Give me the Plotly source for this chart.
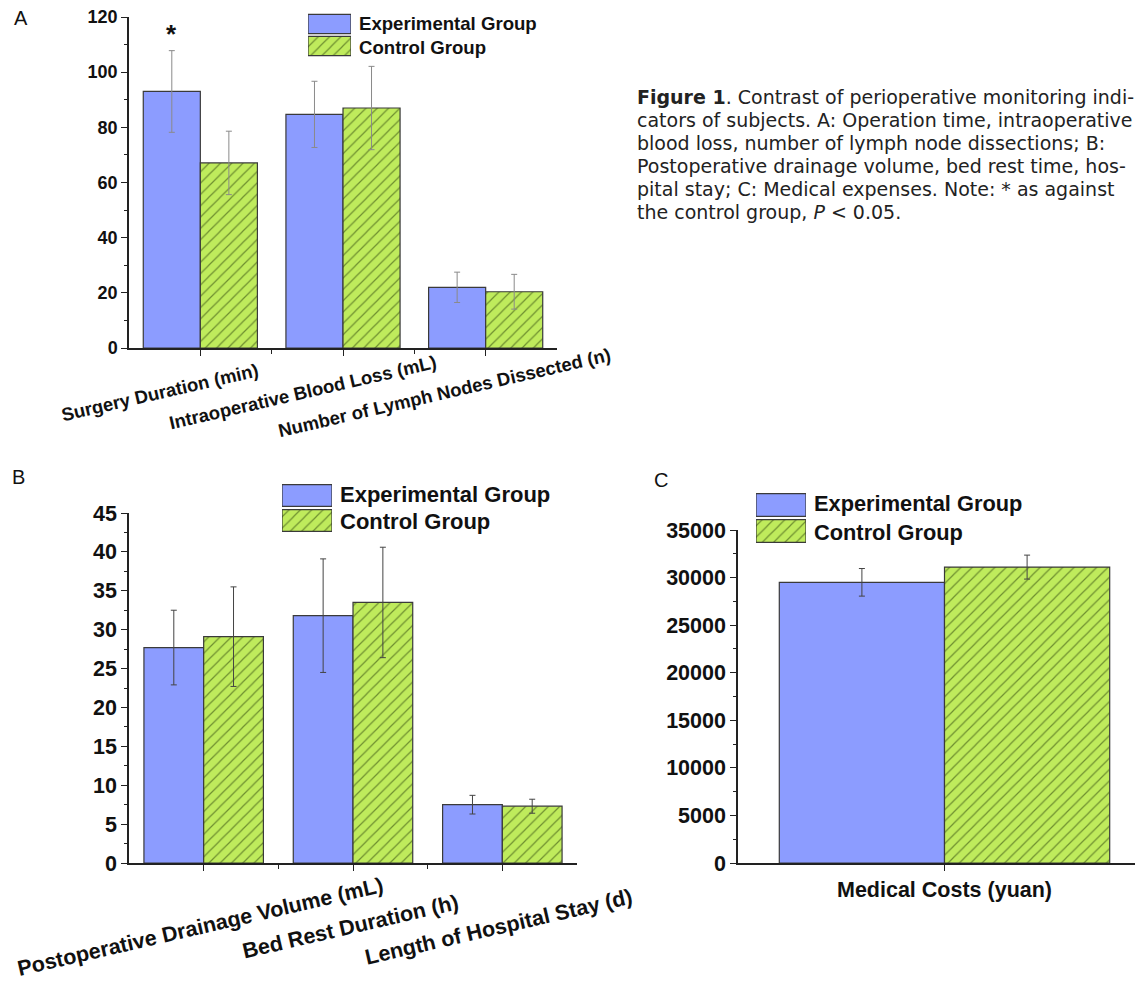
import plotly.graph_objects as go

# ---------------- data ----------------
groups = ["Experimental Group", "Control Group"]

cats_a = ["Surgery Duration (min)", "Intraoperative Blood Loss (mL)",
          "Number of Lymph Nodes Dissected (n)"]
exp_a = [93.0, 84.7, 22.0]
exp_a_err = [14.8, 12.0, 5.5]
ctrl_a = [67.1, 87.0, 20.4]
ctrl_a_err = [11.5, 15.1, 6.3]

cats_b = ["Postoperative Drainage Volume (mL)", "Bed Rest Duration (h)",
          "Length of Hospital Stay (d)"]
exp_b = [27.7, 31.8, 7.5]
exp_b_err = [4.8, 7.3, 1.2]
ctrl_b = [29.1, 33.5, 7.3]
ctrl_b_err = [6.4, 7.1, 0.9]

cats_c = ["Medical Costs (yuan)"]
exp_c = [29500]
exp_c_err = [1450]
ctrl_c = [31100]
ctrl_c_err = [1260]

caption_lines = [
    "<b>Figure 1</b>. Contrast of perioperative monitoring indi-",
    "cators of subjects. A: Operation time, intraoperative",
    "blood loss, number of lymph node dissections; B:",
    "Postoperative drainage volume, bed rest time, hos-",
    "pital stay; C: Medical expenses. Note: * as against",
    "the control group, <i>P</i> &lt; 0.05.",
]

# ---------------- style ----------------
W, H = 1143, 984
OX, OY = 8, 8          # page body margin of the html page
FONT = "Liberation Sans"
EXP_COLOR = "#8C9CFF"
CTRL_COLOR = "#BFEB5C"
HATCH = "#1E3404"
OUTLINE = "#3a3a3a"
AXC = "#222222"


def px(x):
    return (x - OX) / W


def py(y):
    return 1 - (y - OY) / H


pattern = dict(shape="/", fgcolor=HATCH, size=8, solidity=0.15)

fig = go.Figure()


def add_panel(n, cats, e, ee, c, ce, errcol):
    xs = list(range(len(cats)))
    xa, ya = ("x" if n == 1 else f"x{n}"), ("y" if n == 1 else f"y{n}")
    fig.add_trace(go.Bar(
        x=xs, y=e, name=groups[0], xaxis=xa, yaxis=ya, showlegend=False,
        marker=dict(color=EXP_COLOR, line=dict(color=OUTLINE, width=1.2)),
        error_y=dict(type="data", array=ee, color=errcol, thickness=1, width=3),
    ))
    fig.add_trace(go.Bar(
        x=xs, y=c, name=groups[1], xaxis=xa, yaxis=ya, showlegend=False,
        marker=dict(color=CTRL_COLOR, line=dict(color=OUTLINE, width=1.2),
                    pattern=pattern),
        error_y=dict(type="data", array=ce, color=errcol, thickness=1, width=3),
    ))


add_panel(1, cats_a, exp_a, exp_a_err, ctrl_a, ctrl_a_err, "#8a8a8a")
add_panel(2, cats_b, exp_b, exp_b_err, ctrl_b, ctrl_b_err, "#444444")
add_panel(3, cats_c, exp_c, exp_c_err, ctrl_c, ctrl_c_err, "#444444")

# legend swatches (drawn as bars on small hidden axes)
for n in (4, 5, 6):
    fig.add_trace(go.Bar(
        x=[1], y=[1], orientation="h", xaxis=f"x{n}", yaxis=f"y{n}",
        offsetgroup="sw", width=0.87, showlegend=False, hoverinfo="skip",
        marker=dict(color=EXP_COLOR, line=dict(color=OUTLINE, width=1.2)),
    ))
    fig.add_trace(go.Bar(
        x=[1], y=[0], orientation="h", xaxis=f"x{n}", yaxis=f"y{n}",
        offsetgroup="sw", width=0.87, showlegend=False, hoverinfo="skip",
        marker=dict(color=CTRL_COLOR, line=dict(color=OUTLINE, width=1.2),
                    pattern=pattern),
    ))


def yax(dom, rng, dtick, mdtick, fs, anchor):
    return dict(
        domain=dom, range=rng, dtick=dtick, tick0=0, tickformat="d",
        showgrid=False, zeroline=False, showline=True, linecolor=AXC,
        linewidth=1.5, ticks="outside", ticklen=6, tickwidth=1.2,
        tickcolor=AXC, automargin=False, anchor=anchor,
        ticklabeloverflow="allow",
        tickfont=dict(family=FONT, size=fs, color="#111", weight="bold"),
        minor=dict(dtick=mdtick, tick0=0, ticks="outside", ticklen=3.5,
                   tickwidth=1, tickcolor=AXC),
        fixedrange=True,
    )


def xax(dom, rng, tickvals, minorvals, anchor, showlabels=False, text=None,
        fs=18):
    d = dict(
        domain=dom, range=rng, tickvals=tickvals, showgrid=False,
        zeroline=False, showline=True, linecolor=AXC, linewidth=1.5,
        ticks="outside", ticklen=6, tickwidth=1.2, tickcolor=AXC,
        anchor=anchor, showticklabels=showlabels, fixedrange=True,
        automargin=False, ticklabeloverflow="allow",
        tickfont=dict(family=FONT, size=fs, color="#111", weight="bold"),
    )
    if text is not None:
        d["ticktext"] = text
    if minorvals:
        d["minor"] = dict(tickvals=minorvals, ticks="outside", ticklen=4,
                          tickwidth=1, tickcolor=AXC)
    return d


hidden = dict(visible=False, fixedrange=True, automargin=False)

fig.update_layout(
    width=W, height=H, autosize=False,
    margin=dict(l=0, r=0, t=0, b=0, pad=0, autoexpand=False),
    paper_bgcolor="white", plot_bgcolor="white",
    barmode="group", bargap=0.2, bargroupgap=0,
    showlegend=False,
    xaxis=xax([px(129), px(557)], [-0.5, 2.5], [0, 1, 2], [0.5, 1.5], "y"),
    yaxis=yax([py(348), py(17)], [0, 120], 20, 10, 18, "x"),
    xaxis2=xax([px(129), px(577)], [-0.5, 2.5], [0, 1, 2], [0.5, 1.5], "y2"),
    yaxis2=yax([py(863), py(513)], [0, 45], 5, 2.5, 21.5, "x2"),
    xaxis3=xax([px(738), 1.0], [-0.5, 0.5], [0], None, "y3",
               showlabels=True, text=cats_c, fs=21.5),
    yaxis3=yax([py(863), py(530)], [0, 35000], 5000, 2500, 21.5, "x3"),
    xaxis4=dict(hidden, domain=[px(308), px(351)], range=[0, 1], anchor="y4"),
    yaxis4=dict(hidden, domain=[py(57), py(13)], range=[-0.5, 1.5], anchor="x4"),
    xaxis5=dict(hidden, domain=[px(282), px(332)], range=[0, 1], anchor="y5"),
    yaxis5=dict(hidden, domain=[py(533), py(483)], range=[-0.5, 1.5], anchor="x5"),
    xaxis6=dict(hidden, domain=[px(756), px(806)], range=[0, 1], anchor="y6"),
    yaxis6=dict(hidden, domain=[py(544), py(492)], range=[-0.5, 1.5], anchor="x6"),
)

ann = []

# rotated category labels
for i, t in enumerate(cats_a):
    ann.append(dict(text=t, x=i, xref="x", y=py(392), yref="paper",
                    xshift=-41, xanchor="center", yanchor="middle",
                    textangle=-13, showarrow=False,
                    font=dict(family=FONT, size=18.5, color="#111",
                              weight="bold")))
for i, t in enumerate(cats_b):
    ann.append(dict(text=t, x=i, xref="x2", y=py(927), yref="paper",
                    xshift=-3, xanchor="center", yanchor="middle",
                    textangle=-13, showarrow=False,
                    font=dict(family=FONT, size=21.5, color="#111",
                              weight="bold")))

# legend texts
for (xp, ys, fs) in [(357, (23, 47), 18.6), (338, (495, 521), 22),
                     (812, (504, 532), 21.8)]:
    for g, yy in zip(groups, ys):
        ann.append(dict(text=g, x=px(xp), y=py(yy), xref="paper",
                        yref="paper", xanchor="left", yanchor="middle",
                        showarrow=False,
                        font=dict(family=FONT, size=fs, color="#111",
                                  weight="bold")))

# significance marker above experimental bar of first category
bar_offset = (1 - 0.2) / 4
ann.append(dict(text="*", x=0 - bar_offset, xref="x",
                y=exp_a[0] + exp_a_err[0], yref="y", yanchor="bottom",
                yshift=0, showarrow=False,
                font=dict(family=FONT, size=26, color="#111", weight="bold")))

# panel letters
for lab, (xx, yy) in zip("ABC", [(21, 18), (18, 477), (661, 480)]):
    ann.append(dict(text=lab, x=px(xx), y=py(yy), xref="paper", yref="paper",
                    xanchor="center", yanchor="middle", showarrow=False,
                    font=dict(family=FONT, size=20, color="#111")))

# caption
for k, line in enumerate(caption_lines):
    ann.append(dict(text=line, x=px(635), y=py(97 + 23 * k), xref="paper",
                    yref="paper", xanchor="left", yanchor="middle",
                    showarrow=False,
                    font=dict(family="DejaVu Sans", size=19, color="#222")))

fig.update_layout(annotations=ann)

fig.write_html("out.html")
